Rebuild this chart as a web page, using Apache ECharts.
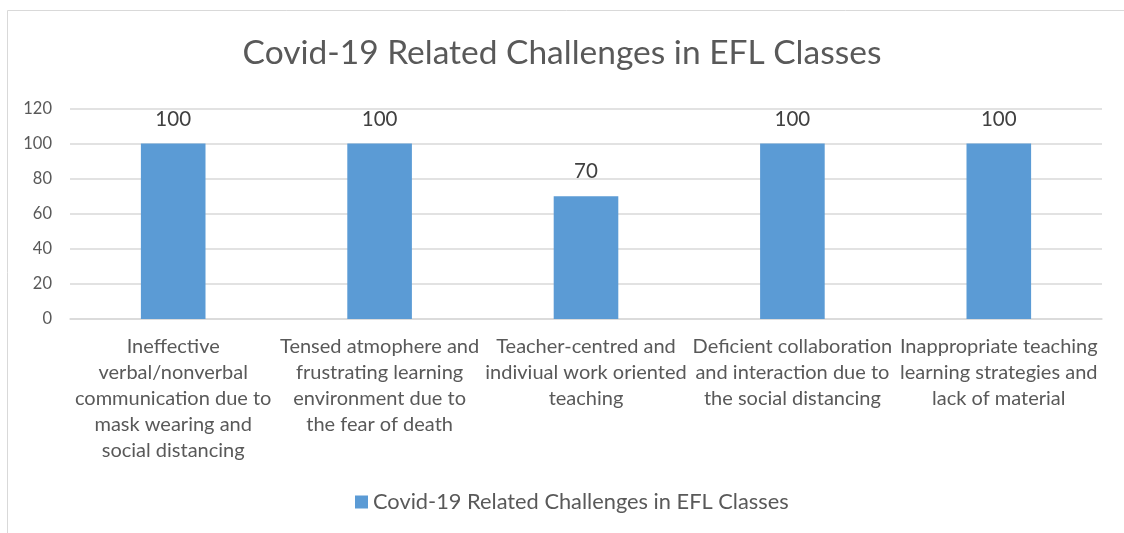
<!DOCTYPE html>
<html>
<head>
<meta charset="utf-8">
<script src="https://cdn.jsdelivr.net/npm/echarts@6/dist/echarts.min.js"></script>
<style>
html,body{margin:0;padding:0;background:#fff;}
#chart{width:1124px;height:533px;}
</style>
</head>
<body>
<div id="chart"></div>
<script>
const titleText = 'Covid-19 Related Challenges in EFL Classes';
const seriesName = 'Covid-19 Related Challenges in EFL Classes';
const categories = [
  'Ineffective\nverbal/nonverbal\ncommunication due to\nmask wearing and\nsocial distancing',
  'Tensed atmophere and\nfrustrating learning\nenvironment due to\nthe fear of death',
  'Teacher-centred and\nindiviual work oriented\nteaching',
  'Deficient collaboration\nand interaction due to\nthe social distancing',
  'Inappropriate teaching\nlearning strategies and\nlack of material'
];
const values = [100, 100, 70, 100, 100];
const yTicks = {min: 0, max: 120, interval: 20};

const FONT = 'Lato';
const chart = echarts.init(document.getElementById('chart'), null, {renderer: 'canvas'});
chart.setOption({
  animation: false,
  textStyle: {fontFamily: FONT},
  title: {
    text: titleText, left: 'center', top: 31,
    textStyle: {fontFamily: FONT, fontSize: 33.5, fontWeight: 'normal', color: '#595959'}
  },
  graphic: [{
    type: 'rect', silent: true,
    shape: {x: 7.5, y: 10.5, width: 1300, height: 1000},
    style: {fill: 'none', stroke: '#d9d9d9', lineWidth: 1}
  }],
  legend: {
    bottom: 15, left: 350,
    icon: 'rect', itemWidth: 13, itemHeight: 13, itemGap: 7,
    textStyle: {fontFamily: FONT, fontSize: 21.8, color: '#595959'},
    data: [seriesName]
  },
  grid: {left: 70, right: 22, top: 108.5, bottom: 214, containLabel: false},
  xAxis: {
    type: 'category', data: categories,
    axisLine: {show: true, lineStyle: {color: '#d9d9d9', width: 1.5}},
    axisTick: {show: false},
    axisLabel: {interval: 0, margin: 15, color: '#595959', fontFamily: FONT, fontSize: 20, lineHeight: 26, align: 'center'}
  },
  yAxis: {
    type: 'value', min: yTicks.min, max: yTicks.max, interval: yTicks.interval,
    axisLine: {show: false}, axisTick: {show: false},
    axisLabel: {margin: 18, color: '#595959', fontFamily: FONT, fontSize: 16.5},
    splitLine: {lineStyle: {color: '#d9d9d9', width: 1.5}}
  },
  series: [{
    name: seriesName, type: 'bar', data: values, barWidth: '31.3%',
    itemStyle: {color: '#5b9bd5'},
    label: {show: true, position: 'top', distance: 14, color: '#404040', fontFamily: FONT, fontSize: 20.5}
  }]
});
</script>
</body>
</html>
